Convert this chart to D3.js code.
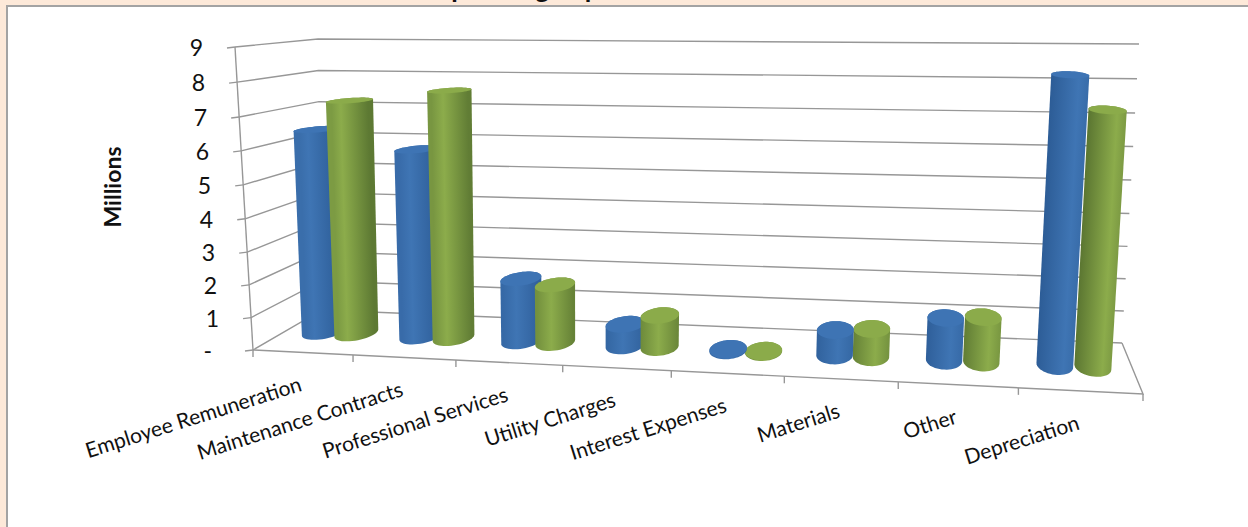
<!DOCTYPE html>
<html>
<head>
<meta charset="utf-8">
<title>Operating Expenses</title>
<script src="https://cdn.jsdelivr.net/npm/d3@7/dist/d3.min.js"></script>
<style>
  html, body { margin: 0; padding: 0; background: #fde9d9; }
  svg { display: block; }
  text { font-family: Lato, "Open Sans", sans-serif; fill: #111; }
</style>
</head>
<body>
<svg id="chart" width="1248" height="527"></svg>
<script>
// Expenses in millions, one value per category for each of the two series
const categories = ["Employee Remuneration", "Maintenance Contracts", "Professional Services",
  "Utility Charges", "Interest Expenses", "Materials", "Other", "Depreciation"];
const blueValues = [6.4, 5.85, 1.95, 0.66, 0.03, 0.76, 1.26, 8.35];
const greenValues = [7.3, 7.65, 1.8, 0.98, 0.02, 0.84, 1.33, 7.4];
const valueTicks = [0, 1, 2, 3, 4, 5, 6, 7, 8, 9];
const valueTickLabels = ["-", "1", "2", "3", "4", "5", "6", "7", "8", "9"];
const titleText = "Operating Expenses";
const axisTitle = "Millions";

// Fore-shortened positions along the two chart axes, as fractions of the box
const across = d3.scaleLinear()
  .domain(d3.range(9))
  .range([0, 0.1124, 0.228, 0.348, 0.470, 0.597, 0.725, 0.860, 1]);
const rise = d3.scaleLinear()
  .domain(valueTicks)
  .range([0, 0.107, 0.215, 0.323, 0.433, 0.545, 0.657, 0.769, 0.884, 1]);
// The cylinders stand mid-floor, so their category slots sit a little off the front ticks
const slotShift = [0.0065, 0.007, 0.009, 0.011, 0.009, 0.008, 0.0065, 0.0005];
const pairGap = d3.scaleLinear().domain([0, 7]).range([0.019, 0.0225]);

// Screen corners of the 3D box: [front|back][Left|Right][floor|ceiling]
const box = {
  fl0: [253, 350], fl1: [235, 47], fr0: [1143, 394], fr1: [1165, 60],
  bl0: [322, 310], bl1: [318, 39], br0: [1122, 343], br1: [1139, 44]
};
const mix = (p, q, t) => [p[0] + (q[0] - p[0]) * t, p[1] + (q[1] - p[1]) * t];

// Trilinear projection: a across the box, d into it (0 front, 1 back), h up it
function project(a, d, h) {
  const floor = mix(mix(box.fl0, box.fr0, a), mix(box.bl0, box.br0, a), d);
  const ceil = mix(mix(box.fl1, box.fr1, a), mix(box.bl1, box.br1, a), d);
  return mix(floor, ceil, h);
}
const atValue = (a, d, v) => project(a, d, rise(v));

const svg = d3.select("#chart");
const defs = svg.append("defs");

svg.append("text").attr("x", 430).attr("y", -2)
  .attr("font-size", 26.5).attr("font-weight", 700).text(titleText);

// White chart panel; only its top and left rules fall inside the view
svg.append("rect").attr("x", 7).attr("y", 6).attr("width", 1260).attr("height", 540)
  .attr("fill", "#fff").attr("stroke", "#a3a3a3").attr("stroke-width", 2);

const gridColor = "#979797";
const line = d3.line();
const closed = d3.line().curve(d3.curveLinearClosed);
const grid = svg.append("g").attr("fill", "none").attr("stroke", gridColor).attr("stroke-width", 1.4);

// Gridlines run along the side wall, then along the back wall
grid.selectAll("path.gridline").data(valueTicks).join("path")
  .attr("class", "gridline")
  .attr("d", v => line([atValue(0, 0, v), atValue(0, 1, v), atValue(1, 1, v)]));

// Floor outline and vertical axis
grid.append("path").attr("d", line([atValue(0, 0, 0), atValue(1, 0, 0), atValue(1, 1, 0)]));
grid.append("path").attr("d", line([atValue(0, 0, 0), atValue(0, 0, 9)]));

// Value axis ticks and labels
grid.selectAll("path.vtick").data(valueTicks).join("path")
  .attr("class", "vtick")
  .attr("d", v => { const p = atValue(0, 0, v); return line([p, [p[0] - 8, p[1] + 1]]); });
svg.selectAll("text.vlabel").data(valueTicks).join("text")
  .attr("class", "vlabel")
  .attr("text-anchor", "end")
  .attr("font-size", 23)
  .attr("x", v => atValue(0, 0, v)[0] - 32 - (v === 0 ? 9 : 0))
  .attr("y", v => atValue(0, 0, v)[1] + 9)
  .text((v, i) => valueTickLabels[i]);

// Category ticks along the front edge of the floor
grid.selectAll("path.ctick").data(d3.range(9)).join("path")
  .attr("class", "ctick")
  .attr("d", i => { const p = project(across(i), 0, 0); return line([p, [p[0], p[1] + 7]]); });

// Cylinders: a circle on the floor and one at the value, joined by their hull
const radiusA = 0.0215, radiusD = 0.2, barDepth = 0.5;
function ring(a, v) {
  return d3.range(0, 2 * Math.PI, Math.PI / 24).map(t =>
    atValue(a + radiusA * Math.cos(t), barDepth + radiusD * Math.sin(t), v));
}

const barSeries = [
  { name: "blue", values: blueValues, side: -1, dark: "#2b5a94", light: "#3f75b4", cap: "#3e74b4" },
  { name: "green", values: greenValues, side: 1, dark: "#587330", light: "#8cac4b", cap: "#8bab4a" }
];
const bars = barSeries.flatMap(s => s.values.map((value, i) => ({
  s, i, value, a: across(i + 0.5) + slotShift[i] + s.side * pairGap(i)
})));
// Cylinders nearest the middle of the view are painted last
bars.sort((p, q) => Math.abs(q.a - 0.5) - Math.abs(p.a - 0.5));

const highlight = d3.scaleLinear().domain([0, 1]).range([0.2, 0.8]);
const barLayer = svg.append("g");
bars.forEach((b, n) => {
  const base = ring(b.a, 0), top = ring(b.a, b.value);
  const hull = d3.polygonHull(base.concat(top));

  // Shading runs across the cylinder, square to its lean; the edge away from the
  // highlight falls off furthest
  const c0 = atValue(b.a, barDepth, 0), c1 = atValue(b.a, barDepth, b.value);
  const mid = mix(c0, c1, 0.5);
  const len = Math.hypot(c1[0] - c0[0], c1[1] - c0[1]) || 1;
  const nx = -(c1[1] - c0[1]) / len, ny = (c1[0] - c0[0]) / len;
  const halfW = (base[0][0] - base[24][0]) / 2;
  const sign = nx >= 0 ? 1 : -1;
  const h = highlight(b.a);
  const shade = d3.interpolateRgb(b.s.light, b.s.dark);
  const id = "shade" + n;
  const g = defs.append("linearGradient").attr("id", id).attr("gradientUnits", "userSpaceOnUse")
    .attr("x1", mid[0] - sign * nx * halfW).attr("y1", mid[1] - sign * ny * halfW)
    .attr("x2", mid[0] + sign * nx * halfW).attr("y2", mid[1] + sign * ny * halfW);
  g.append("stop").attr("offset", 0).attr("stop-color", shade(Math.min(1, h * 1.2)));
  g.append("stop").attr("offset", h).attr("stop-color", b.s.light);
  g.append("stop").attr("offset", 1).attr("stop-color", shade(Math.min(1, (1 - h) * 1.2)));

  barLayer.append("path").attr("d", closed(hull)).attr("fill", `url(#${id})`);
  barLayer.append("path").attr("d", closed(top)).attr("fill", b.s.cap);
});

// Rotated category labels, each ending below the middle of its category
svg.selectAll("text.clabel").data(categories).join("text")
  .attr("class", "clabel")
  .attr("text-anchor", "end")
  .attr("font-size", 21)
  .attr("transform", (d, i) => {
    const p = project(across(i + 0.5), 0, 0);
    return `translate(${p[0]},${p[1] + 38}) rotate(-17.5)`;
  })
  .text(d => d);

// Vertical axis title
svg.append("text")
  .attr("transform", "translate(121,187) rotate(-90)")
  .attr("text-anchor", "middle")
  .attr("font-size", 23)
  .attr("font-weight", 700)
  .text(axisTitle);
</script>
</body>
</html>
